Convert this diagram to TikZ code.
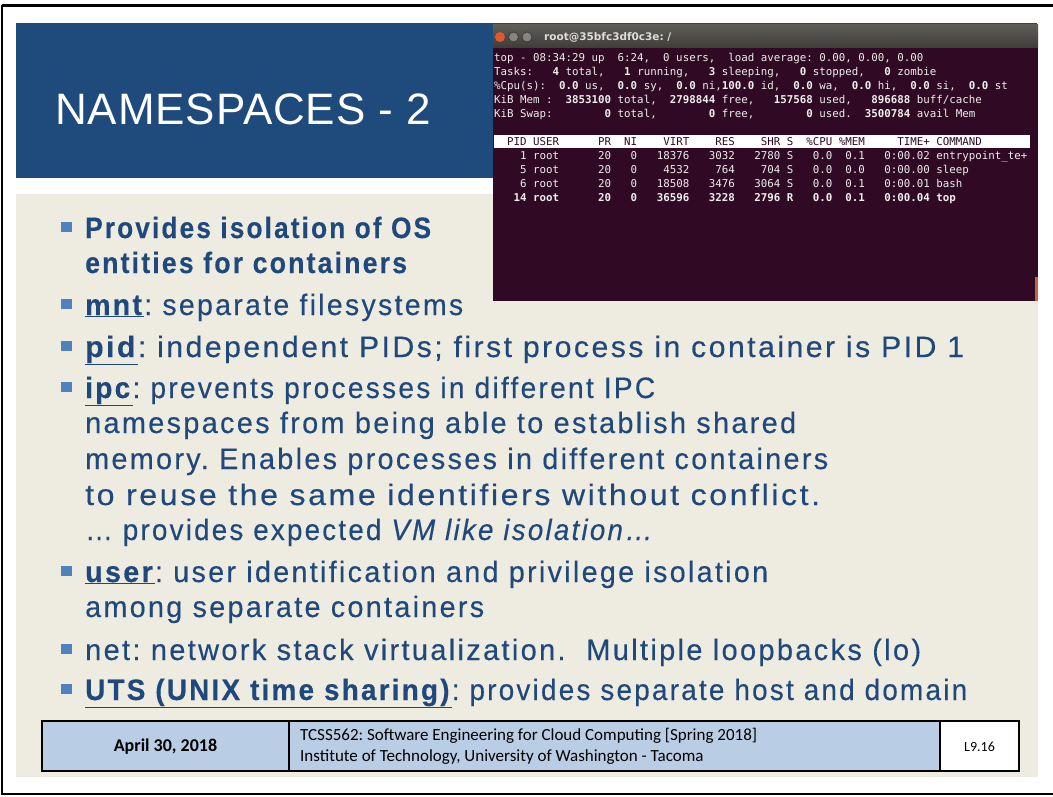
\documentclass[tikz,border=0pt]{standalone}
\usepackage{graphicx}
\usepackage{fontspec}
\setmainfont{Liberation Sans}
\newfontfamily\bodyfont[LetterSpace=8, FakeBold=0.3]{Liberation Sans}
\newfontfamily\titlefont[LetterSpace=2]{Liberation Sans}
\newfontfamily\termfont{DejaVu Sans Mono}
\newfontfamily\winfont{DejaVu Sans}
\newfontfamily\footfont{Carlito}

\definecolor{titleblue}{HTML}{1F4A7C}
\definecolor{textblue}{HTML}{1F497D}
\definecolor{bulletblue}{HTML}{4F81BD}
\definecolor{beige}{HTML}{EEECE1}
\definecolor{termbg}{HTML}{300A24}
\definecolor{termtext}{HTML}{EEEEEC}
\definecolor{bartop}{HTML}{5E5D58}
\definecolor{barbot}{HTML}{3D3C38}
\definecolor{closered}{HTML}{E0582C}
\definecolor{btngray}{HTML}{86847C}
\definecolor{cellblue}{HTML}{B9CDE5}
\definecolor{edgeorange}{HTML}{C8643C}

% keyword: bold and underlined
\newcommand{\kw}[1]{\underline{\textbf{#1}}}
% set one line of body text to a given width, keeping its height
\newcommand{\fitto}[2]{\resizebox{#1pt}{\height}{#2}}
\frenchspacing

\begin{document}
\begin{tikzpicture}[x=1pt,y=-1pt,
  body/.style={anchor=base west, inner sep=0pt, text=textblue,
    font=\bodyfont\fontsize{29.5}{34}\selectfont},
  bulletmark/.style={fill=bulletblue, minimum size=10.5pt, inner sep=0pt},
  termline/.style={anchor=base west, inner sep=0pt, text=termtext,
    font=\termfont\fontsize{10.8}{14}\selectfont},
  winbtn/.style={circle, inner sep=0pt, minimum size=10pt},
  footcell/.style={draw=black, line width=1.2pt},
]
\useasboundingbox (0,0) rectangle (1053,797);

% page frame
\draw[line width=2.5pt] (1.5,5.5) -- (1060,5.5);
\draw[line width=2pt] (1.5,5.5) -- (1.5,794) -- (1060,794);

% title band
\fill[titleblue] (16,23) rectangle (1037,178);
\node[anchor=base west, inner sep=0pt, text=white,
  font=\titlefont\fontsize{44}{50}\selectfont] (title) at (55,125) {NAMESPACES - 2};

% content area
\fill[beige] (16,194) rectangle (1038,777);

% terminal window
\shade[top color=bartop, bottom color=barbot] (493,25) rectangle (1038,48);
\fill[termbg] (493,48) rectangle (1038,301);
\fill[edgeorange] (1035,277) rectangle (1038,301);
\node[winbtn, fill=closered] (btnclose) at (500,37) {};
\node[winbtn, fill=btngray, draw=barbot, line width=0.8pt] (btnmin) at (513.5,37) {};
\node[winbtn, fill=btngray, draw=barbot, line width=0.8pt] (btnmax) at (527,37) {};
\node[anchor=west, inner sep=0pt, text=termtext!85!gray,
  font=\winfont\bfseries\fontsize{10.5}{12}\selectfont] (wintitle) at (544,37) {root@35bfc3df0c3e: /};

\node[termline] (t1) at (494,62) {top~-~08:34:29~up~~6:24,~~0~users,~~load~average:~0.00,~0.00,~0.00};
\node[termline] (t2) at (494,76) {Tasks:~~~\textbf{4}~total,~~~\textbf{1}~running,~~~\textbf{3}~sleeping,~~~\textbf{0}~stopped,~~~\textbf{0}~zombie};
\node[termline] (t3) at (494,90) {\%Cpu(s):~~\textbf{0.0}~us,~~\textbf{0.0}~sy,~~\textbf{0.0}~ni,\textbf{100.0}~id,~~\textbf{0.0}~wa,~~\textbf{0.0}~hi,~~\textbf{0.0}~si,~~\textbf{0.0}~st};
\node[termline] (t4) at (494,104) {KiB~Mem~:~~\textbf{3853100}~total,~~\textbf{2798844}~free,~~~\textbf{157568}~used,~~~\textbf{896688}~buff/cache};
\node[termline] (t5) at (494,118) {KiB~Swap:~~~~~~~~\textbf{0}~total,~~~~~~~~\textbf{0}~free,~~~~~~~~\textbf{0}~used.~~\textbf{3500784}~avail~Mem};

\fill[white] (494,135) rectangle (1030,148);
\node[termline, text=termbg] (thead) at (494,146) {~~PID~USER~~~~~~PR~~NI~~~~VIRT~~~~RES~~~~SHR~S~~\%CPU~\%MEM~~~~~TIME+~COMMAND};
\node[termline] (r1) at (494,160) {~~~~1~root~~~~~~20~~~0~~~18376~~~3032~~~2780~S~~~0.0~~0.1~~~0:00.02~entrypoint\_te+};
\node[termline] (r2) at (494,174) {~~~~5~root~~~~~~20~~~0~~~~4532~~~~764~~~~704~S~~~0.0~~0.0~~~0:00.00~sleep};
\node[termline] (r3) at (494,188) {~~~~6~root~~~~~~20~~~0~~~18508~~~3476~~~3064~S~~~0.0~~0.1~~~0:00.01~bash};
\node[termline] (r4) at (494,202) {\textbf{~~~14~root~~~~~~20~~~0~~~36596~~~3228~~~2796~R~~~0.0~~0.1~~~0:00.04~top}};

% bullet list
\foreach \y/\n in {238/b1, 315/b2, 357/b3, 398/b4, 582/b5, 660/b6, 700/b7}
  \node[bulletmark] (\n) at (66.5,\y-11) {};

\node[body] (l1) at (85,238) {\fitto{348}{\textbf{Provides isolation of OS}}};
\node[body] (l2) at (85,273) {\fitto{324}{\textbf{entities for containers}}};
\node[body] (l3) at (85,315) {\fitto{378}{\kw{mnt}: separate filesystems}};
\node[body] (l4) at (85,357) {\fitto{879}{\kw{pid}: independent PIDs; first process in container is PID 1}};
\node[body] (l5) at (85,398) {\fitto{570}{\kw{ipc}: prevents processes in different IPC}};
\node[body] (l6) at (85,433) {\fitto{711}{namespaces from being able to establish shared}};
\node[body] (l7) at (85,469) {\fitto{743}{memory. Enables processes in different containers}};
\node[body] (l8) at (85,505) {\fitto{735}{to reuse the same identifiers without conflict.}};
\node[body] (l9) at (85,540) {\fitto{570}{… provides expected \textit{VM like isolation…}}};
\node[body] (l10) at (85,582) {\fitto{683}{\kw{user}: user identification and privilege isolation}};
\node[body] (l11) at (85,617) {\fitto{399}{among separate containers}};
\node[body] (l12) at (85,660) {\fitto{836}{net: network stack virtualization.\ \ Multiple loopbacks (lo)}};
\node[body] (l13) at (85,700) {\fitto{882}{\kw{UTS (UNIX time sharing)}: provides separate host and domain}};

% footer
\fill[cellblue] (42,721) rectangle (940,771);
\draw[footcell] (42,721) rectangle (289,771);
\draw[footcell] (289,721) rectangle (940,771);
\draw[footcell, fill=white] (940,721) rectangle (1019,771);
\node[font=\footfont\bfseries\fontsize{18}{20}\selectfont] (date) at (165.5,747) {April 30, 2018};
\node[anchor=west, align=left, inner sep=0pt,
  font=\footfont\fontsize{17}{21}\selectfont] (course) at (300,746.5)
  {TCSS562: Software Engineering for Cloud Computing [Spring 2018]\\Institute of Technology, University of Washington - Tacoma};
\node[font=\footfont\fontsize{14}{16}\selectfont] (slide) at (979.5,747) {L9.16};
\end{tikzpicture}
\end{document}
